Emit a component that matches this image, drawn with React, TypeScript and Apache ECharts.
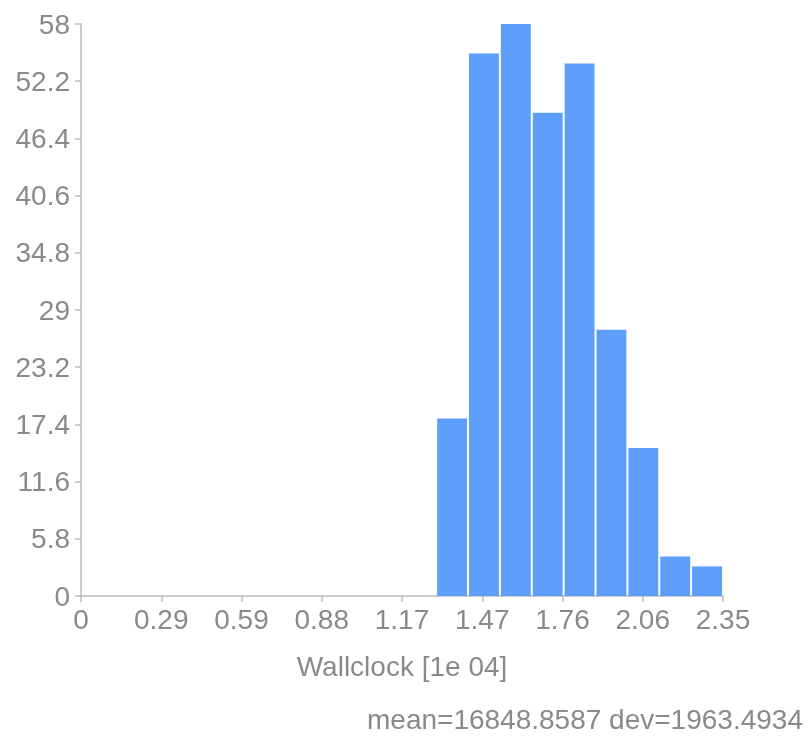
import React, { useEffect, useRef } from "react";
import * as echarts from "echarts";

const binEdges = [1.3, 1.4167, 1.5333, 1.65, 1.7667, 1.8833, 2.0, 2.1167, 2.2333, 2.35];
const binCounts = [18, 55, 58, 49, 54, 27, 15, 4, 3];
const xTickLabels = ["0", "0.29", "0.59", "0.88", "1.17", "1.47", "1.76", "2.06", "2.35"];
const yMax = 58;
const yInterval = 5.8;
const xMax = 2.35;
const xAxisTitle = "Wallclock [1e 04]";
const statsText = "mean=16848.8587 dev=1963.4934";

const FONT = "'Liberation Sans', Arial, Helvetica, sans-serif";
const GREY = "#8a8a8a";
const FS = 28;

export default function App() {
  const ref = useRef<HTMLDivElement>(null);
  useEffect(() => {
    if (!ref.current) return;
    const chart = echarts.init(ref.current, undefined, { renderer: "svg" });
    const data = binCounts.map((c, i) => [binEdges[i], binEdges[i + 1], c]);
    chart.setOption({
      animation: false,
      textStyle: { fontFamily: FONT },
      grid: { left: 81, right: 86, top: 24, bottom: 142, containLabel: false },
      xAxis: {
        type: "value",
        min: 0,
        max: xMax,
        interval: xMax / 8,
        name: xAxisTitle,
        nameLocation: "middle",
        nameGap: 56,
        nameTextStyle: { color: GREY, fontSize: FS, fontFamily: FONT },
        axisLine: { show: true, lineStyle: { color: "#bbbbbb", width: 1.5 } },
        axisTick: { show: true, length: 6, lineStyle: { color: "#bbbbbb", width: 1.5 } },
        splitLine: { show: false },
        axisLabel: {
          color: GREY,
          fontSize: FS,
          margin: 9,
          fontFamily: FONT,
          formatter: (v: number) => xTickLabels[Math.round(v / (xMax / 8))] ?? "",
        },
      },
      yAxis: {
        type: "value",
        min: 0,
        max: yMax,
        interval: yInterval,
        axisLine: { show: true, lineStyle: { color: "#bbbbbb", width: 1.5 } },
        axisTick: { show: true, length: 6, lineStyle: { color: "#bbbbbb", width: 1.5 } },
        splitLine: { show: false },
        axisLabel: {
          color: GREY,
          fontSize: FS,
          margin: 11,
          fontFamily: FONT,
          verticalAlign: "middle",
          padding: [4, 0, 0, 0],
          formatter: (v: number) => String(Math.round(v * 10) / 10),
        },
      },
      graphic: [
        {
          type: "text",
          left: 367,
          top: 705,
          style: { text: statsText, fill: GREY, fontSize: FS, fontFamily: FONT },
        },
      ],
      series: [
        {
          type: "custom",
          data,
          encode: { x: [0, 1], y: 2 },
          renderItem: (params: any, api: any) => {
            const p0 = api.coord([api.value(0), api.value(2)]);
            const p1 = api.coord([api.value(1), 0]);
            return {
              type: "rect",
              shape: { x: p0[0] + 1, y: p0[1], width: p1[0] - p0[0] - 2, height: p1[1] - p0[1] },
              style: { fill: "#5c9ef9" },
            };
          },
        },
      ],
    });
    return () => chart.dispose();
  }, []);
  return <div ref={ref} style={{ position: "fixed", left: 0, top: 0, width: 809, height: 738 }} />;
}
